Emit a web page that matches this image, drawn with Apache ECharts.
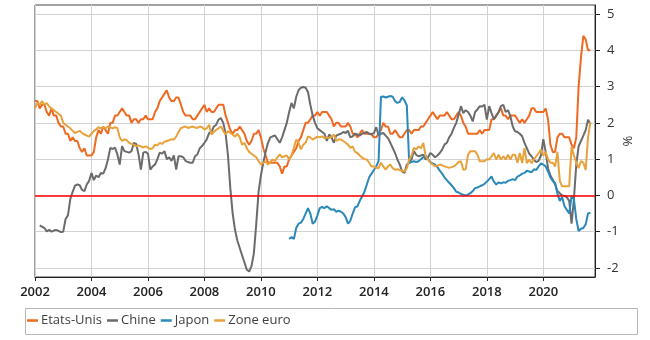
<!DOCTYPE html>
<html><head><meta charset="utf-8">
<script src="https://cdn.jsdelivr.net/npm/echarts@6/dist/echarts.min.js"></script>
<style>html,body{margin:0;padding:0;background:#fff}#c{width:650px;height:340px}</style>
</head><body><div id="c"></div>
<script>
// Monthly data, index 0 = Jan 2002
const startYear = 2002;
const seriesNames = ['Etats-Unis', 'Chine', 'Japon', 'Zone euro'];
const unitLabel = '%';

const usStart = 0;
const us = [
 2.6,2.6,2.4,2.5,2.5,2.3,2.2,2.4,2.2,2.2,2.0,1.9,
 1.9,1.7,1.7,1.5,1.6,1.5,1.5,1.3,1.2,1.3,1.1,1.1,
 1.1,1.2,1.6,1.8,1.7,1.9,1.8,1.7,2.0,2.0,2.2,2.2,
 2.3,2.4,2.3,2.2,2.2,2.0,2.1,2.1,2.0,2.1,2.1,2.2,
 2.1,2.1,2.1,2.3,2.4,2.6,2.7,2.8,2.9,2.7,2.6,2.6,
 2.7,2.7,2.5,2.3,2.2,2.2,2.2,2.1,2.1,2.2,2.3,2.4,
 2.5,2.3,2.4,2.3,2.3,2.4,2.5,2.5,2.5,2.2,2.0,1.8,
 1.7,1.8,1.8,1.9,1.8,1.7,1.5,1.4,1.5,1.7,1.7,1.8,
 1.6,1.3,1.1,0.9,0.9,0.9,0.9,0.9,0.8,0.6,0.8,0.8,
 1.0,1.1,1.2,1.3,1.5,1.6,1.8,2.0,2.0,2.1,2.2,2.2,
 2.3,2.2,2.3,2.3,2.3,2.2,2.1,1.9,2.0,2.0,1.9,1.9,
 1.9,2.0,1.9,1.7,1.7,1.6,1.7,1.8,1.7,1.7,1.7,1.7,
 1.6,1.6,1.7,1.8,2.0,1.9,1.9,1.7,1.7,1.8,1.7,1.6,
 1.6,1.7,1.8,1.8,1.7,1.8,1.8,1.8,1.9,1.9,2.0,2.1,
 2.2,2.3,2.2,2.1,2.2,2.2,2.2,2.3,2.2,2.1,2.1,2.2,
 2.3,2.2,2.0,1.9,1.7,1.7,1.7,1.7,1.7,1.8,1.7,1.8,
 1.8,1.8,2.1,2.1,2.2,2.3,2.4,2.2,2.2,2.1,2.2,2.2,
 2.2,2.1,2.0,2.1,2.0,2.1,2.2,2.4,2.4,2.3,2.3,2.3,
 2.3,2.4,2.1,1.4,1.2,1.2,1.6,1.7,1.7,1.6,1.6,1.6,
 1.4,1.3,1.6,3.0,3.8,4.4,4.3,4.0,4.0
];

const chinaStart = 2;
const china = [
 -0.83,-0.86,-0.9,-0.99,-0.95,-1.0,-0.97,-0.95,-0.98,-1.01,
 -1.0,-0.65,-0.55,-0.1,0.1,0.27,0.3,0.28,0.15,0.12,0.3,0.4,
 0.62,0.42,0.55,0.5,0.62,0.6,0.75,0.99,1.31,1.28,1.32,1.13,
 0.85,1.36,1.22,1.2,1.18,1.22,1.45,1.42,1.13,0.71,1.18,1.2,
 1.15,0.71,0.8,0.85,1.0,1.18,1.15,1.22,1.0,1.05,0.95,1.1,
 0.71,1.08,1.08,1.05,0.95,0.92,0.9,0.9,1.08,1.13,1.3,1.36,
 1.45,1.55,1.72,1.75,1.9,1.95,2.09,2.13,2.0,1.7,1.1,0.2,
 -0.5,-0.95,-1.25,-1.45,-1.65,-1.85,-2.05,-2.1,-1.95,-1.6,-0.8,0.1,
 0.55,0.9,1.2,1.45,1.6,1.63,1.65,1.55,1.45,1.6,1.8,2.0,
 2.3,2.55,2.4,2.72,2.9,2.97,2.99,2.97,2.85,2.5,2.2,2.0,
 1.85,1.8,1.75,1.7,1.5,1.68,1.6,1.45,1.65,1.68,1.7,1.75,
 1.72,1.78,1.6,1.63,1.7,1.68,1.65,1.7,1.72,1.75,1.7,1.68,
 1.72,1.88,1.66,1.7,1.72,1.65,1.58,1.45,1.31,1.17,0.99,0.85,
 0.66,0.62,0.85,0.9,1.0,1.22,1.12,1.08,1.1,1.12,0.99,1.05,
 1.17,1.12,1.05,1.1,1.17,1.26,1.4,1.45,1.6,1.7,1.86,2.0,
 2.23,2.46,2.27,2.35,2.3,2.2,2.04,2.3,2.37,2.46,2.45,2.5,
 2.09,2.46,2.27,2.1,2.2,2.3,2.46,2.5,2.3,2.35,2.18,1.9,
 1.77,1.75,1.7,1.63,1.45,1.3,1.15,1.08,0.98,0.92,0.95,1.1,
 1.55,1.2,0.75,0.55,0.44,0.3,0.12,0.06,0.0,-0.02,-0.05,-0.15,
 -0.78,-0.1,0.85,1.35,1.5,1.65,1.8,2.09,1.97
];

const japanStart = 108;
const japan = [
 -1.2,-1.15,-1.2,-0.9,-0.78,-0.75,-0.65,-0.5,-0.35,-0.5,-0.78,-0.72,
 -0.55,-0.35,-0.32,-0.35,-0.3,-0.35,-0.4,-0.38,-0.45,-0.42,-0.45,-0.5,
 -0.6,-0.78,-0.7,-0.5,-0.33,-0.3,-0.15,-0.03,0.1,0.3,0.5,0.6,
 0.7,0.8,0.95,2.72,2.73,2.7,2.72,2.74,2.72,2.6,2.55,2.58,
 2.7,2.62,2.48,0.9,0.92,0.94,0.92,0.94,1.0,1.05,1.1,1.0,
 0.92,0.88,0.85,0.78,0.68,0.6,0.5,0.42,0.35,0.28,0.2,0.1,
 0.08,0.04,0.02,0.0,0.02,0.06,0.12,0.2,0.22,0.25,0.28,0.32,
 0.38,0.45,0.52,0.38,0.3,0.36,0.33,0.36,0.35,0.4,0.42,0.45,
 0.42,0.52,0.55,0.6,0.62,0.68,0.66,0.64,0.72,0.7,0.8,0.88,
 0.85,0.8,0.66,0.5,0.4,0.34,0.05,-0.15,-0.05,-0.3,-0.4,-0.5,
 -0.02,-0.1,-0.65,-0.98,-0.92,-0.9,-0.8,-0.5,-0.48
];

const euroStart = 0;
const euro = [
 2.4,2.55,2.5,2.6,2.5,2.55,2.45,2.4,2.35,2.3,2.25,2.2,
 2.0,1.95,1.9,1.85,1.78,1.72,1.75,1.78,1.72,1.68,1.65,1.62,
 1.7,1.78,1.82,1.88,1.85,1.88,1.85,1.9,1.87,1.85,1.88,1.86,
 1.6,1.5,1.55,1.52,1.45,1.42,1.4,1.35,1.38,1.35,1.32,1.35,
 1.32,1.28,1.3,1.4,1.38,1.45,1.42,1.48,1.5,1.52,1.55,1.54,
 1.62,1.75,1.86,1.88,1.9,1.86,1.88,1.9,1.87,1.86,1.9,1.88,
 1.82,1.85,1.95,1.68,1.75,1.81,1.85,1.9,1.78,1.68,1.77,1.72,
 1.68,1.62,1.7,1.6,1.4,1.45,1.3,1.2,1.15,1.1,1.05,0.95,
 0.85,0.9,0.94,0.85,0.92,0.99,0.95,1.05,1.13,1.05,1.08,1.1,
 0.99,1.1,1.31,1.54,1.45,1.27,1.4,1.45,1.63,1.6,1.54,1.58,
 1.62,1.6,1.63,1.58,1.6,1.58,1.62,1.68,1.5,1.55,1.54,1.5,
 1.45,1.4,1.31,1.35,1.2,1.17,1.1,1.04,1.0,0.99,0.9,0.8,
 0.8,0.76,0.75,0.9,0.8,0.71,0.8,0.85,0.75,0.71,0.72,0.7,
 0.68,0.66,0.75,0.99,1.1,1.31,1.27,1.35,1.3,1.45,1.08,0.99,
 0.9,0.85,0.8,0.82,0.85,0.83,0.8,0.78,0.76,0.78,0.8,0.85,
 0.92,0.94,0.71,0.72,1.12,1.22,1.22,1.22,1.12,0.94,0.94,0.94,
 1.0,0.99,1.08,1.17,0.99,1.12,0.99,1.08,0.99,1.12,0.99,1.12,
 1.12,0.9,1.17,0.89,1.3,0.89,0.99,0.89,0.99,1.08,1.17,1.26,
 1.1,1.2,1.0,0.9,0.9,0.8,1.2,0.4,0.25,0.25,0.25,0.25,
 1.35,1.1,0.9,0.75,0.95,0.9,0.7,1.6,2.02
];

const xMin = 2002, xMax = 2021.83, xStep = 2;
const yTicks = [-2, -1, 0, 1, 2, 3, 4, 5];
const colors = ['#ee6a22', '#6b6b6b', '#2b88ba', '#e8a23c'];

function toPairs(arr, start) {
  return arr.map((v, i) => [startYear + (start + i) / 12, v]);
}

const FONT = "'Segoe UI', 'Open Sans', sans-serif";
const chart = echarts.init(document.getElementById('c'), null, {renderer: 'canvas'});

const seriesData = [toPairs(us, usStart), toPairs(china, chinaStart), toPairs(japan, japanStart), toPairs(euro, euroStart)];

chart.setOption({
  animation: false,
  color: colors,
  grid: {left: 35, right: 55, top: 5, bottom: 63, show: true, borderColor: '#444', borderWidth: 1, containLabel: false, outerBoundsMode: 'none'},
  xAxis: {
    type: 'value', min: xMin, max: xMax, interval: xStep,
    axisLine: {show: true, onZero: false, lineStyle: {color: '#222', width: 1}},
    axisTick: {show: true, length: 4, lineStyle: {color: '#222'}},
    axisLabel: {showMaxLabel: false, margin: 9, color: '#222', fontSize: 13, fontWeight: 600, fontFamily: FONT, formatter: v => String(Math.round(v))},
    splitLine: {show: true, lineStyle: {color: '#d2d2d2', width: 1}}
  },
  yAxis: {
    type: 'value', position: 'right', min: -2.25, max: 5.25,
    axisLine: {show: true, lineStyle: {color: '#222'}},
    axisTick: {show: true, customValues: yTicks, length: 5, lineStyle: {color: '#222'}},
    axisLabel: {customValues: yTicks, margin: 12, color: '#333', fontSize: 13, fontFamily: FONT},
    splitLine: {show: true, lineStyle: {color: '#d2d2d2', width: 1}}
  },
  legend: {
    data: seriesNames, left: 27, top: 314, icon: 'rect', itemWidth: 11, itemHeight: 2.5, itemGap: 5,
    textStyle: {color: '#404040', fontSize: 13, fontFamily: FONT, padding: [0, 0, 0, -2]}, padding: 0
  },
  graphic: [
    {type: 'rect', shape: {x: 25.5, y: 308.5, width: 612, height: 26}, style: {fill: 'none', stroke: '#b8b8b8', lineWidth: 1}, silent: true},
    {type: 'text', x: 627, y: 141, rotation: -Math.PI / 2, silent: true,
     style: {text: unitLabel, fill: '#333', fontSize: 13, fontFamily: FONT, align: 'center', verticalAlign: 'middle'}}
  ],
  series: seriesNames.map((name, k) => ({
    name, type: 'line', data: seriesData[k], showSymbol: false, symbol: 'none',
    lineStyle: {width: 2, color: colors[k]}, itemStyle: {color: colors[k]},
    emphasis: {disabled: true},
    markLine: k === 0 ? {silent: true, symbol: 'none', label: {show: false}, emphasis: {disabled: true},
      lineStyle: {color: '#ff0000', width: 1.5, type: 'solid'}, data: [{yAxis: 0}]} : undefined
  }))
});
</script></body></html>
